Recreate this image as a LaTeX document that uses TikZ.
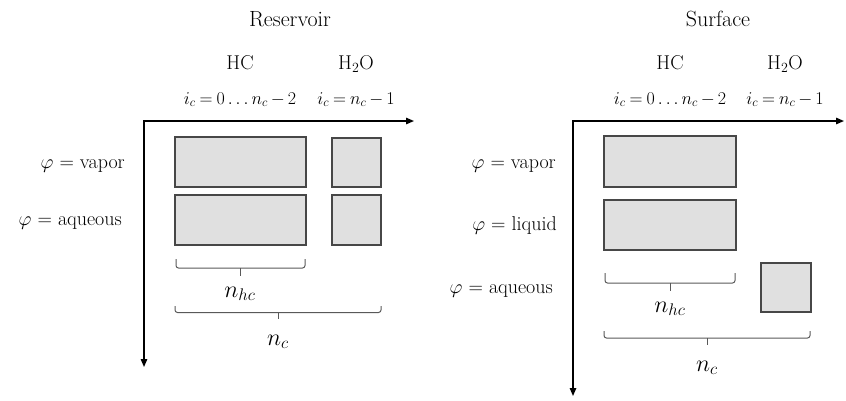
\RequirePackage{fix-cm}
\documentclass[tikz,border=0pt]{standalone}
\usepackage{amsmath}
\usepackage{fontspec}
\usetikzlibrary{arrows.meta}
% narrower spacing around relations and binary operators
\newcommand{\tightmath}{\thickmuskip=4mu\relax\medmuskip=3mu\relax}
\begin{document}
\begin{tikzpicture}[x=1pt,y=-1pt,
  cell/.style={draw=black!72, fill=black!12, line width=1.1pt, inner sep=0pt, outer sep=0pt},
  axis/.style={line width=1.4pt, {Triangle[length=8pt,width=6.5pt]}-{Triangle[length=8pt,width=6.5pt]}},
  bracket/.style={draw=black!65, line width=1pt, rounded corners=2.5pt},
  lbl/.style={font=\fontsize{20}{24}\selectfont, inner sep=0pt, anchor=base},
  title/.style={lbl, font=\fontsize{22}{26}\selectfont},
  idx/.style={lbl, font=\fontsize{18}{22}\selectfont},
  count/.style={lbl, font=\fontsize{24}{28}\selectfont},
  rlbl/.style={lbl, anchor=base east},
]
\useasboundingbox (0,0) rectangle (846,400);

% ---------------- Reservoir ----------------
\node[title] (rtitle) at (290,26) {Reservoir};
\node[lbl] (rhc)  at (240,69) {HC};
\node[lbl] (rh2o) at (356,69) {H$_2$O};
\node[idx] (rih)  at (240,104) {\tightmath$i_c = 0 \ldots n_c - 2$};
\node[idx] (riw)  at (356,104) {\tightmath$i_c = n_c - 1$};

\coordinate (rx) at (414,121);
\coordinate (ro) at (144,121);
\coordinate (ry) at (144,367);
\draw[axis] (rx) -- (ro) -- (ry);

\node[cell, minimum width=131pt, minimum height=50pt] (rvh) at (240.5,162) {};
\node[cell, minimum width=49pt,  minimum height=49pt] (rvw) at (356.5,162.5) {};
\node[cell, minimum width=131pt, minimum height=50pt] (rah) at (240.5,220) {};
\node[cell, minimum width=49pt,  minimum height=50pt] (raw) at (356.5,220) {};

\node[rlbl] (rlv) at (125,168) {$\varphi$ = vapor};
\node[rlbl] (rla) at (122,225) {$\varphi$ = aqueous};

\draw[bracket] (176,259) |- (240.5,268) -| (305,259);
\draw[bracket] (240.5,268) -- (240.5,276);
\node[count] (rnhc) at (240,297) {$n_{hc}$};
\draw[bracket] (175,306) |- (278,312.5) -| (381,306);
\draw[bracket] (278,312.5) -- (278,319);
\node[count] (rnc) at (278,345) {$n_c$};

% ---------------- Surface ----------------
\node[title] (stitle) at (718,26) {Surface};
\node[lbl] (shc)  at (670,69) {HC};
\node[lbl] (sh2o) at (785,69) {H$_2$O};
\node[idx] (sih)  at (670,104) {\tightmath$i_c = 0 \ldots n_c - 2$};
\node[idx] (siw)  at (785,104) {\tightmath$i_c = n_c - 1$};

\coordinate (sx) at (844,121);
\coordinate (so) at (573,121);
\coordinate (sy) at (573,396);
\draw[axis] (sx) -- (so) -- (sy);

\node[cell, minimum width=132pt, minimum height=51pt] (svh) at (670,161.5) {};
\node[cell, minimum width=132pt, minimum height=50pt] (slh) at (670,225) {};
\node[cell, minimum width=50pt,  minimum height=49pt] (saw) at (786,287.5) {};

\node[rlbl] (slv) at (556,168) {$\varphi$ = vapor};
\node[rlbl] (sll) at (557,230) {$\varphi$ = liquid};
\node[rlbl] (sla) at (553,293) {$\varphi$ = aqueous};

\draw[bracket] (605,273) |- (670,283) -| (735,273);
\draw[bracket] (670,283) -- (670,291);
\node[count] (snhc) at (670,312) {$n_{hc}$};
\draw[bracket] (604,331) |- (707,338) -| (810,331);
\draw[bracket] (707,338) -- (707,345);
\node[count] (snc) at (707,371) {$n_c$};
\end{tikzpicture}
\end{document}
